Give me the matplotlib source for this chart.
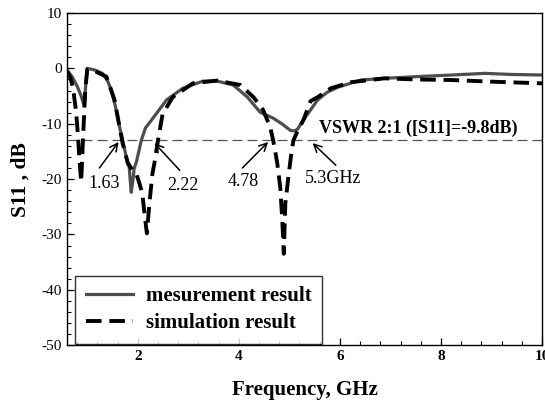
import matplotlib
matplotlib.use("Agg")
import matplotlib.pyplot as plt
from matplotlib.ticker import MultipleLocator

plt.rcParams['font.family'] = ['Liberation Serif', 'DejaVu Serif']
plt.rcParams['axes.unicode_minus'] = False

# measured S11 (solid)
meas_f = [0.6, 0.7, 0.8, 0.88, 0.94, 0.97, 1.0, 1.15, 1.3, 1.4, 1.48, 1.56, 1.64, 1.7, 1.76, 1.8, 1.83,
          1.87, 1.9, 1.93, 1.97, 2.02, 2.07, 2.15, 2.3, 2.57, 2.89, 3.29, 3.57, 3.89, 4.17, 4.42,
          4.68, 4.85, 5.02, 5.1, 5.16, 5.28, 5.42, 5.56, 5.75, 5.96, 6.42, 6.88, 7.5, 8.21, 8.87, 9.4, 10.0]
meas_s = [-0.3, -1.5, -3.2, -5.0, -6.8, -3.0, 0.0, -0.3, -0.9, -2.2, -4.0, -7.0, -10.6, -13.0, -15.5,
          -17.2, -17.8, -22.4, -20.5, -18.0, -17.0, -15.0, -13.0, -10.8, -9.0, -5.7, -3.6, -2.3, -2.3,
          -3.0, -5.2, -7.9, -9.0, -10.0, -11.2, -11.3, -11.0, -9.3, -7.5, -5.7, -4.3, -3.4, -2.1, -1.8,
          -1.5, -1.2, -0.9, -1.1, -1.2]

# simulated S11 (dashed)
sim_f = [0.6, 0.67, 0.72, 0.78, 0.82, 0.84, 0.88, 0.92, 0.96, 1.0, 1.15, 1.38, 1.54, 1.64, 1.7, 1.8,
         1.9, 1.97, 2.04, 2.09, 2.13, 2.18, 2.23, 2.29, 2.33, 2.4, 2.49, 2.69, 3.09, 3.57, 4.03, 4.29,
         4.48, 4.62, 4.68, 4.76, 4.82, 4.86, 4.89, 4.92, 4.98, 5.03, 5.08, 5.18, 5.28, 5.42, 5.56,
         5.82, 6.22, 6.88, 7.5, 8.21, 9.0, 10.0]
sim_s = [-0.5, -1.8, -3.6, -7.9, -12.6, -15.7, -20.5, -12.0, -4.0, -0.2, -0.5, -1.5, -5.7, -10.6,
         -13.5, -17.0, -18.5, -19.0, -21.0, -22.6, -26.0, -29.8, -24.4, -19.0, -17.1, -13.0, -8.3,
         -5.2, -2.7, -2.2, -3.0, -5.2, -7.5, -10.6, -13.0, -17.1, -21.5, -27.4, -33.5, -24.4, -19.7,
         -16.0, -13.0, -11.0, -9.3, -5.9, -5.2, -3.6, -2.5, -1.8, -2.0, -2.1, -2.4, -2.7]

vswr_level = -13.0
ann_labels = ['1.63', '2.22', '4.78', '5.3GHz']
ann_tips = [(1.62, -13.3), (2.33, -13.5), (4.58, -13.3), (5.46, -13.5)]
ann_tails = [(1.24, -18.0), (2.83, -18.4), (4.07, -18.0), (5.92, -17.5)]
ann_text_pos = [(1.34, -20.8), (2.89, -21.2), (4.09, -20.4), (5.86, -19.9)]

fig = plt.figure(figsize=(5.45, 4.07), dpi=100)
ax = fig.add_axes([0.123, 0.152, 0.8715, 0.816])

ax.axhline(vswr_level, color='#555555', lw=0.9, ls=(0, (8, 4)))
ax.plot(meas_f, meas_s, color='#4d4d4d', lw=2.3, label='mesurement result', solid_joinstyle='round')
ax.plot(sim_f, sim_s, color='black', lw=2.8, ls=(0, (4, 2)), label='simulation result')

for lab, tip, tail, tp in zip(ann_labels, ann_tips, ann_tails, ann_text_pos):
    ax.annotate('', xy=tip, xytext=tail,
                arrowprops=dict(arrowstyle='->', color='black', lw=1.1, mutation_scale=14,
                                shrinkA=0, shrinkB=0))
    ax.text(tp[0], tp[1], lab, fontsize=13, ha='center', va='center')

ax.text(5.58, -10.9, 'VSWR 2:1 ([S11]=-9.8dB)', fontsize=13, fontweight='bold',
        ha='left', va='center')

ax.set_xlim(0.6, 10)
ax.set_ylim(-50, 10)
ax.xaxis.set_major_locator(MultipleLocator(2))
ax.xaxis.set_minor_locator(MultipleLocator(0.4))
ax.yaxis.set_major_locator(MultipleLocator(10))
ax.yaxis.set_minor_locator(MultipleLocator(2))
ax.tick_params(which='both', direction='in', top=False, right=False, labelsize=11)
ax.tick_params(which='major', length=5, width=0.9)
ax.tick_params(which='minor', length=3, width=0.8)
for t in ax.get_xticklabels():
    t.set_fontweight('bold')
for s in ax.spines.values():
    s.set_linewidth(1.0)

ax.set_xlabel('Frequency, GHz', fontsize=15, fontweight='bold', labelpad=12)
ax.set_ylabel('S11 , dB', fontsize=15.5, fontweight='bold', labelpad=8)

leg = ax.legend(loc='lower left', bbox_to_anchor=(0.017, 0.004), borderaxespad=0,
                frameon=True, fancybox=False,
                edgecolor='black', prop={'weight': 'bold', 'size': 15}, handlelength=2.3,
                borderpad=0.5, labelspacing=0.35, handletextpad=0.6)
leg.get_frame().set_linewidth(1.0)

fig.savefig('out.png', dpi=100)
